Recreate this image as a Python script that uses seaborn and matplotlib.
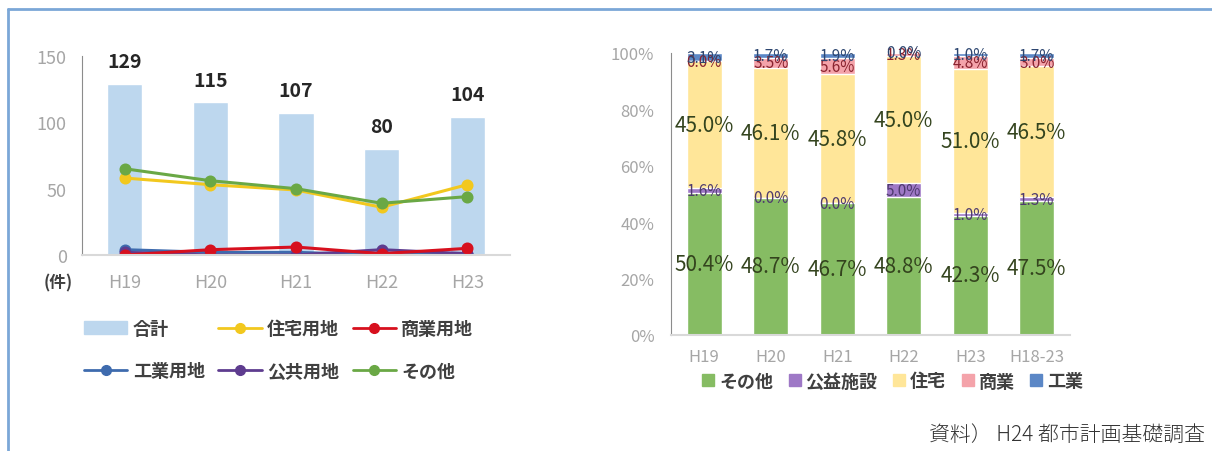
import seaborn as sns
import pandas as pd
import matplotlib.pyplot as plt
from matplotlib.lines import Line2D
from matplotlib.patches import Patch

### Datos
anios = ["H19", "H20", "H21", "H22", "H23"]
total = [129, 115, 107, 80, 104]
jutaku_yochi = [58, 53, 49, 36, 53]
shogyo_yochi = [0, 4, 6, 1, 5]
kogyo_yochi = [4, 2, 2, 0, 1]
kokyo_yochi = [2, 0, 0, 4, 1]
sonota_yochi = [65, 56, 50, 39, 44]

periodos = ["H19", "H20", "H21", "H22", "H23", "H18-23"]
pct_sonota = [50.4, 48.7, 46.7, 48.8, 42.3, 47.5]
pct_koeki = [1.6, 0.0, 0.0, 5.0, 1.0, 1.3]
pct_jutaku = [45.0, 46.1, 45.8, 45.0, 51.0, 46.5]
pct_shogyo = [0.0, 3.5, 5.6, 1.3, 4.8, 3.0]
pct_kogyo = [3.1, 1.7, 1.9, 0.0, 1.0, 1.7]

sns.set_style("white")
plt.rcParams['font.family'] = ['Noto Sans CJK JP', 'DejaVu Sans']

W, H = 1212, 452
fig = plt.figure(figsize=(W / 100, H / 100), dpi=100)

### Grafica izquierda: barras + lineas
ax1 = fig.add_axes([82 / W, 1 - 256 / H, (510 - 82) / W, (256 - 57) / H])
sns.barplot(x=anios, y=total, color="#BDD7EE", saturation=1, width=0.41, ax=ax1)

series = [
    ("工業用地", kogyo_yochi, "#3E6BAE"),
    ("公共用地", kokyo_yochi, "#5E3C8F"),
    ("商業用地", shogyo_yochi, "#D7101E"),
    ("住宅用地", jutaku_yochi, "#F2C81E"),
    ("その他", sonota_yochi, "#6AA845"),
]
for nombre, vals, col in series:
    sns.pointplot(x=anios, y=vals, color=col, markers="o", errorbar=None,
                  linewidth=2.2, markersize=7, ax=ax1)

for i, v in enumerate(total):
    ax1.annotate(str(v), (i, v), xytext=(0, 16), textcoords="offset points",
                 ha="center", va="center", fontsize=14, fontweight="bold", color="#262626")

ax1.set_xlim(-0.5, 4.5)
ax1.set_ylim(0, 150)
ax1.set_yticks([0, 50, 100, 150])
ax1.set_xlabel("")
ax1.set_ylabel("")
for s in ["top", "right"]:
    ax1.spines[s].set_visible(False)
ax1.spines["left"].set_color("#8C8C8C")
ax1.spines["bottom"].set_color("#D9D9D9")
ax1.spines["bottom"].set_linewidth(1.5)
ax1.tick_params(axis="y", length=0, pad=11, labelcolor="#A6A6A6", labelsize=13)
ax1.tick_params(axis="x", length=0, pad=13, labelcolor="#A6A6A6", labelsize=13)

fig.text(58 / W, 1 - 283 / H, "(件)", ha="center", va="center", fontsize=12,
         color="#404040", fontweight="bold")

col_map = {n: c for n, _, c in series}
handles = [
    Patch(color="#BDD7EE"),
    Line2D([], [], color=col_map["工業用地"], marker="o", markersize=7, lw=2),
    Line2D([], [], color=col_map["住宅用地"], marker="o", markersize=7, lw=2),
    Line2D([], [], color=col_map["公共用地"], marker="o", markersize=7, lw=2),
    Line2D([], [], color=col_map["商業用地"], marker="o", markersize=7, lw=2),
    Line2D([], [], color=col_map["その他"], marker="o", markersize=7, lw=2),
]
etiquetas = ["合計", "工業用地", "住宅用地", "公共用地", "商業用地", "その他"]
leg1 = fig.legend(handles, etiquetas, loc="upper left", bbox_to_anchor=(84 / W, 1 - 320 / H),
                  ncol=3, frameon=False, fontsize=13, handlelength=2.4, handletextpad=0.3,
                  columnspacing=0.75, labelspacing=1.3, borderpad=0, borderaxespad=0)
for t in leg1.get_texts():
    t.set_color("#404040")
    t.set_fontweight("bold")

### Grafica derecha: barras apiladas 100%
ax2 = fig.add_axes([671 / W, 1 - 336 / H, (1070 - 671) / W, (336 - 54) / H])

capas = [
    ("その他", pct_sonota, "#86BC63", "#34441E", 15),
    ("公益施設", pct_koeki, "#9E78C6", "#4E3A6E", 11),
    ("住宅", pct_jutaku, "#FFE699", "#34441E", 15),
    ("商業", pct_shogyo, "#F4A3AA", "#8A2430", 11),
    ("工業", pct_kogyo, "#5B87C6", "#2D4670", 11),
]
df = pd.DataFrame({n: v for n, v, _, _, _ in capas}, index=periodos)
acum = df.cumsum(axis=1)

for nombre, _, col, _, _ in reversed(capas):
    sns.barplot(x=periodos, y=acum[nombre].values, color=col, saturation=1,
                width=0.53, ax=ax2)

for nombre, vals, _, tcol, fs in capas:
    bases = acum[nombre].values - df[nombre].values
    for i, v in enumerate(vals):
        ax2.text(i, bases[i] + v / 2, f"{v:.1f}%", ha="center", va="center",
                 fontsize=fs, color=tcol)

ax2.set_xlim(-0.5, 5.5)
ax2.set_ylim(0, 100)
ax2.set_yticks(range(0, 101, 20))
ax2.set_yticklabels([f"{v}%" for v in range(0, 101, 20)])
ax2.set_xlabel("")
ax2.set_ylabel("")
for s in ["top", "right"]:
    ax2.spines[s].set_visible(False)
ax2.spines["left"].set_color("#8C8C8C")
ax2.spines["bottom"].set_color("#D9D9D9")
ax2.spines["bottom"].set_linewidth(1.5)
ax2.tick_params(axis="y", length=0, pad=12, labelcolor="#A6A6A6", labelsize=12)
ax2.tick_params(axis="x", length=0, pad=9, labelcolor="#A6A6A6", labelsize=12)

handles2 = [Line2D([], [], marker="s", linestyle="", markersize=9, color=c)
            for _, _, c, _, _ in capas]
leg2 = fig.legend(handles2, [n for n, _, _, _, _ in capas], loc="center",
                  bbox_to_anchor=(892 / W, 1 - 382 / H), ncol=5, frameon=False,
                  fontsize=13, handlelength=0.8, handletextpad=0.2, columnspacing=0.8,
                  borderpad=0, borderaxespad=0)
for t in leg2.get_texts():
    t.set_color("#404040")
    t.set_fontweight("bold")

### Marco y fuente
fig.add_artist(Line2D([8 / W, 1], [1 - 10 / H, 1 - 10 / H], color="#7BA7D7", lw=2,
                      transform=fig.transFigure))
fig.add_artist(Line2D([8 / W, 8 / W], [0, 1 - 10 / H], color="#7BA7D7", lw=2,
                      transform=fig.transFigure))
fig.text(1205 / W, 1 - 435 / H, "資料） H24 都市計画基礎調査", ha="right", va="center",
         fontsize=15, color="#333333", fontweight="light")

plt.savefig("out.png", dpi=100)
